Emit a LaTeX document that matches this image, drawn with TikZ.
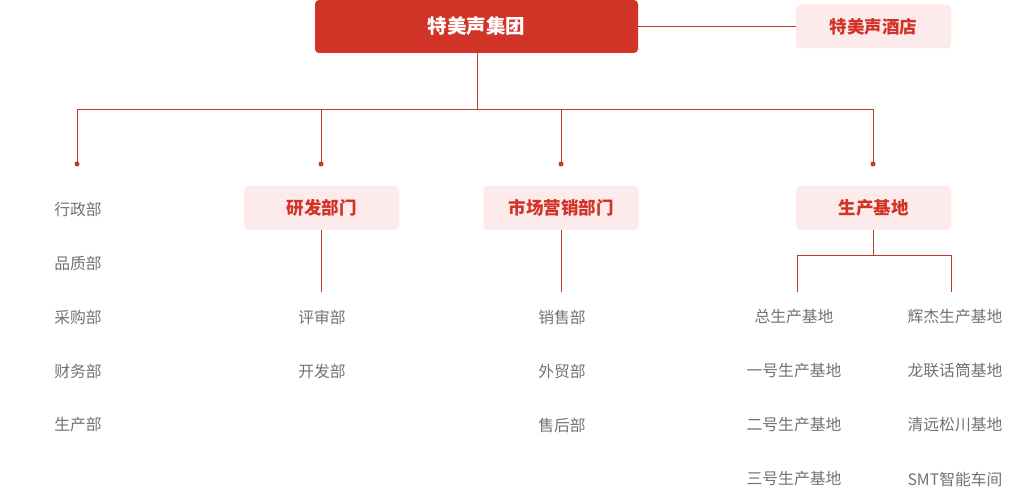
\documentclass[tikz,border=0pt]{standalone}
\usepackage{fontspec}
\setmainfont{Noto Sans CJK SC}
\definecolor{mainred}{HTML}{D13327}
\definecolor{linered}{HTML}{C0392B}
\definecolor{pinkbg}{HTML}{FDEBEB}
\definecolor{txtgray}{HTML}{727272}
\tikzset{
  topbox/.style={fill=mainred, rounded corners=4pt, minimum width=323pt, minimum height=53pt, inner sep=0pt, text=white, font=\fontsize{19.5}{22}\selectfont\bfseries},
  subbox/.style={fill=pinkbg, rounded corners=4pt, minimum width=155pt, minimum height=44pt, inner sep=0pt, text=mainred, font=\fontsize{17.5}{20}\selectfont\bfseries},
  item/.style={text=txtgray, inner sep=0pt, font=\fontsize{15.8}{18}\selectfont},
  conn/.style={draw=linered, line width=0.9pt},
  dotm/.style={circle, fill=linered, inner sep=0pt, minimum size=5pt}
}
\begin{document}
\begin{tikzpicture}[x=1pt,y=-1pt]
\useasboundingbox (0,0) rectangle (1032,502);
% boxes
\node[topbox] (grp) at (476.5,26.5) {\raisebox{-1pt}{特美声集团}};
\node[subbox] (hotel) at (873.5,26.5) {\raisebox{-1pt}{特美声酒店}};
\node[subbox] (rd) at (321.5,208) {\raisebox{-1pt}{研发部门}};
\node[subbox] (mk) at (561,208) {\raisebox{-1pt}{市场营销部门}};
\node[subbox] (pb) at (873.5,208) {\raisebox{-1pt}{生产基地}};
% coordinates
\coordinate (hub) at (477,109);
\coordinate (bl) at (77,109);
\coordinate (br) at (873,109);
\node[dotm] (d1) at (77,164) {};
\node[dotm] (d2) at (321,164) {};
\node[dotm] (d3) at (561,164) {};
\node[dotm] (d4) at (873,164) {};
% connectors
\draw[conn] (grp.east) -- (hotel.west);
\draw[conn] (grp.south -| hub) -- (hub);
\draw[conn] (bl) -- (br);
\draw[conn] (bl) -- (d1.center);
\draw[conn] (d2 |- hub) -- (d2.center);
\draw[conn] (d3 |- hub) -- (d3.center);
\draw[conn] (br) -- (d4.center);
% left column
\node[item] (a1) at (78,209) {行政部};
\node[item] (a2) at (78,263) {品质部};
\node[item] (a3) at (78,317) {采购部};
\node[item] (a4) at (78,371) {财务部};
\node[item] (a5) at (78,425) {生产部};
% R&D
\coordinate (rdend) at (321,292);
\draw[conn] (rd.south -| rdend) -- (rdend);
\node[item] (b1) at (322,317) {评审部};
\node[item] (b2) at (322,371) {开发部};
% marketing
\coordinate (mkend) at (561,292);
\draw[conn] (mk.south) -- (mkend);
\node[item] (c1) at (562,317) {销售部};
\node[item] (c2) at (562,371) {外贸部};
\node[item] (c3) at (562,425) {售后部};
% production
\coordinate (pbmid) at (873,255);
\coordinate (pbl) at (797,255);
\coordinate (pbr) at (951,255);
\coordinate (pblend) at (797,292);
\coordinate (pbrend) at (951,292);
\draw[conn] (pb.south -| pbmid) -- (pbmid);
\draw[conn] (pblend) -- (pbl) -- (pbr) -- (pbrend);
\node[item] (e1) at (794,317) {总生产基地};
\node[item] (e2) at (794,371) {一号生产基地};
\node[item] (e3) at (794,425) {二号生产基地};
\node[item] (e4) at (794,479) {三号生产基地};
\node[item] (f1) at (955,317) {辉杰生产基地};
\node[item] (f2) at (955,371) {龙联话筒基地};
\node[item] (f3) at (955,425) {清远松川基地};
\node[item] (f4) at (955,479) {SMT智能车间};
\end{tikzpicture}
\end{document}
